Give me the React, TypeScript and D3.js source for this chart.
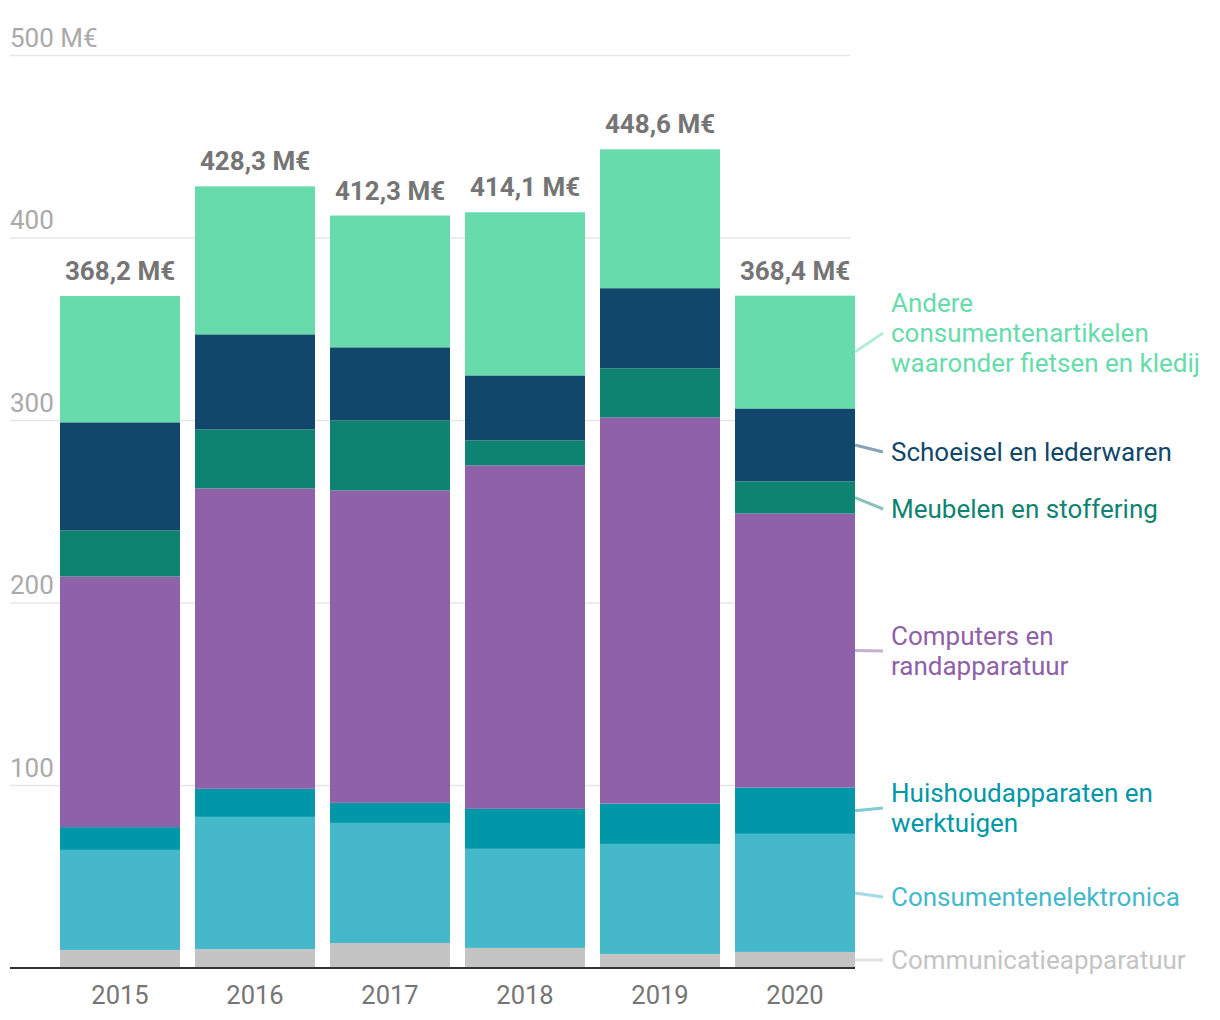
import React from "react";
import * as d3 from "d3";

const years = ["2015", "2016", "2017", "2018", "2019", "2020"];

const seriesKeys = [
  "communicatie",
  "consumentenelektronica",
  "huishoud",
  "computers",
  "meubelen",
  "schoeisel",
  "andere",
];

const seriesLabels = [
  ["Communicatieapparatuur"],
  ["Consumentenelektronica"],
  ["Huishoudapparaten en", "werktuigen"],
  ["Computers en", "randapparatuur"],
  ["Meubelen en stoffering"],
  ["Schoeisel en lederwaren"],
  ["Andere", "consumentenartikelen", "waaronder fietsen en kledij"],
];

const seriesColors = ["#c4c4c4", "#45b8ca", "#0097a8", "#8e61a8", "#0f8371", "#10476a", "#68dbac"];

const communicatie = [9.9, 10.4, 13.7, 11.0, 7.7, 8.8];
const consumentenelektronica = [54.8, 72.4, 65.8, 54.3, 60.3, 64.7];
const huishoud = [12.5, 15.4, 11.0, 21.9, 22.1, 25.4];
const computers = [137.3, 164.6, 171.2, 188.2, 211.6, 150.1];
const meubelen = [25.2, 32.3, 38.4, 13.7, 26.9, 17.6];
const schoeisel = [59.3, 52.1, 40.0, 35.6, 43.9, 40.0];
const andere = [69.2, 81.1, 72.2, 89.4, 76.1, 61.8];

const totalLabels = ["368,2 M€", "428,3 M€", "412,3 M€", "414,1 M€", "448,6 M€", "368,4 M€"];

const yTicks = [100, 200, 300, 400, 500];
const yTickLabels = ["100", "200", "300", "400", "500 M€"];

// label anchor positions (layout)
const labelAnchorY = [960, 897, 808, 651, 509, 452, 333];

export default function App() {
  const W = 1220;
  const H = 1020;
  const font = "Roboto, 'Noto Sans', sans-serif";

  const rows = years.map((y, i) => ({
    year: y,
    communicatie: communicatie[i],
    consumentenelektronica: consumentenelektronica[i],
    huishoud: huishoud[i],
    computers: computers[i],
    meubelen: meubelen[i],
    schoeisel: schoeisel[i],
    andere: andere[i],
  }));

  const stacked = d3.stack<any>().keys(seriesKeys)(rows);

  const x = d3
    .scaleBand<string>()
    .domain(years)
    .range([60, 855])
    .paddingInner(15 / 135)
    .paddingOuter(0);

  const y = d3.scaleLinear().domain([0, 500]).range([968, 55.5]);

  const gridX0 = 10;
  const gridX1 = 850;
  const last = years.length - 1;
  const barRight = (x(years[last]) as number) + x.bandwidth();

  return (
    <svg
      width={W}
      height={H}
      style={{ position: "absolute", left: 0, top: 0, display: "block", background: "#fff" }}
      fontFamily={font}
    >
      {/* gridlines */}
      {yTicks.map((t, i) => (
        <g key={t}>
          <line x1={gridX0} x2={gridX1} y1={y(t)} y2={y(t)} stroke="#e6e6e6" strokeWidth={1.5} />
          <text x={gridX0} y={y(t) - 9} fontSize={26} fill="#aaaaaa">
            {yTickLabels[i]}
          </text>
        </g>
      ))}

      {/* bars */}
      {stacked.map((s, si) => (
        <g key={s.key} fill={seriesColors[si]}>
          {s.map((d, i) => (
            <rect
              key={i}
              x={x(years[i])}
              y={y(d[1])}
              width={x.bandwidth()}
              height={y(d[0]) - y(d[1])}
            />
          ))}
        </g>
      ))}

      {/* baseline */}
      <line x1={gridX0} x2={barRight} y1={y(0)} y2={y(0)} stroke="#333" strokeWidth={2} />

      {/* total labels */}
      {years.map((yr, i) => {
        const top = stacked[stacked.length - 1][i][1];
        return (
          <text
            key={yr}
            x={(x(yr) as number) + x.bandwidth() / 2}
            y={y(top) - 16}
            textAnchor="middle"
            fontSize={26}
            fontWeight={700}
            fill="#757575"
          >
            {totalLabels[i]}
          </text>
        );
      })}

      {/* year labels */}
      {years.map((yr) => (
        <text
          key={yr}
          x={(x(yr) as number) + x.bandwidth() / 2}
          y={1004}
          textAnchor="middle"
          fontSize={25.5}
          fill="#757575"
        >
          {yr}
        </text>
      ))}

      {/* series labels with connectors */}
      {stacked.map((s, si) => {
        const d = s[last];
        const midY = y((d[0] + d[1]) / 2);
        const ay = labelAnchorY[si];
        const lines = seriesLabels[si];
        const lh = 30;
        const startY = ay - ((lines.length - 1) * lh) / 2;
        return (
          <g key={s.key}>
            <line
              x1={barRight}
              x2={883}
              y1={midY}
              y2={ay}
              stroke={seriesColors[si]}
              strokeOpacity={0.5}
              strokeWidth={3}
            />
            <text fontSize={26} fill={seriesColors[si]} dominantBaseline="central">
              {lines.map((ln, li) => (
                <tspan key={li} x={891} y={startY + li * lh}>
                  {ln}
                </tspan>
              ))}
            </text>
          </g>
        );
      })}
    </svg>
  );
}
